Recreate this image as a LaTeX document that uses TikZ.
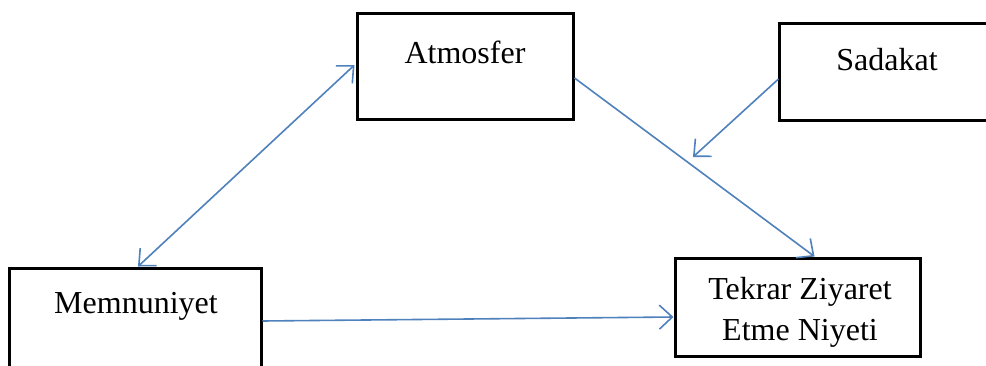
\documentclass[tikz,border=0pt]{standalone}
\usepackage{fontspec}
\setmainfont{Liberation Serif}
\usetikzlibrary{arrows.meta,calc}
\begin{document}
\begin{tikzpicture}[x=1pt,y=-1pt,
  box/.style={draw=black,line width=3pt,rectangle,inner sep=0pt},
  txt/.style={font=\fontsize{32pt}{41pt}\selectfont,anchor=base,inner sep=0pt},
  conn/.style={draw={rgb,255:red,79;green,129;blue,189},line width=1.6pt,
    -{Straight Barb[length=13pt,width=24pt,line width=1.6pt]}},
  dconn/.style={conn,{Straight Barb[length=13pt,width=24pt,line width=1.6pt]}-{Straight Barb[length=13pt,width=24pt,line width=1.6pt]}}]
\useasboundingbox (0,0) rectangle (986,365);
\fill[white] (0,0) rectangle (986,365);
\node[box,minimum width=216pt,minimum height=106pt] (atm) at (465,66) {};
\node[box,minimum width=217pt,minimum height=97pt] (sad) at (887.5,71.5) {};
\node[box,minimum width=252pt,minimum height=100pt] (mem) at (135,318) {};
\node[box,minimum width=245pt,minimum height=98pt] (tek) at (797.5,307) {};
\node[txt] (atmT) at (465,63) {Atmosfer};
\node[txt] (sadT) at (887,70) {Sadakat};
\node[txt] (memT) at (136,313) {Memnuniyet};
\node[txt] (tekT1) at (800,299) {Tekrar Ziyaret};
\node[txt] (tekT2) at (800,340) {Etme Niyeti};
\coordinate (sadEnd) at (693,157);
\draw[dconn] ($(atm.west)+(-1,-1)$) -- ($(mem.north)+(3,0)$);
\draw[conn] ($(atm.east)+(0,12)$) -- ($(tek.north)+(17,0)$);
\draw[conn] ($(sad.west)+(1,7.5)$) -- (sadEnd);
\draw[conn] ($(mem.east)+(0,3)$) -- ($(tek.west)+(0,10)$);
\end{tikzpicture}
\end{document}
